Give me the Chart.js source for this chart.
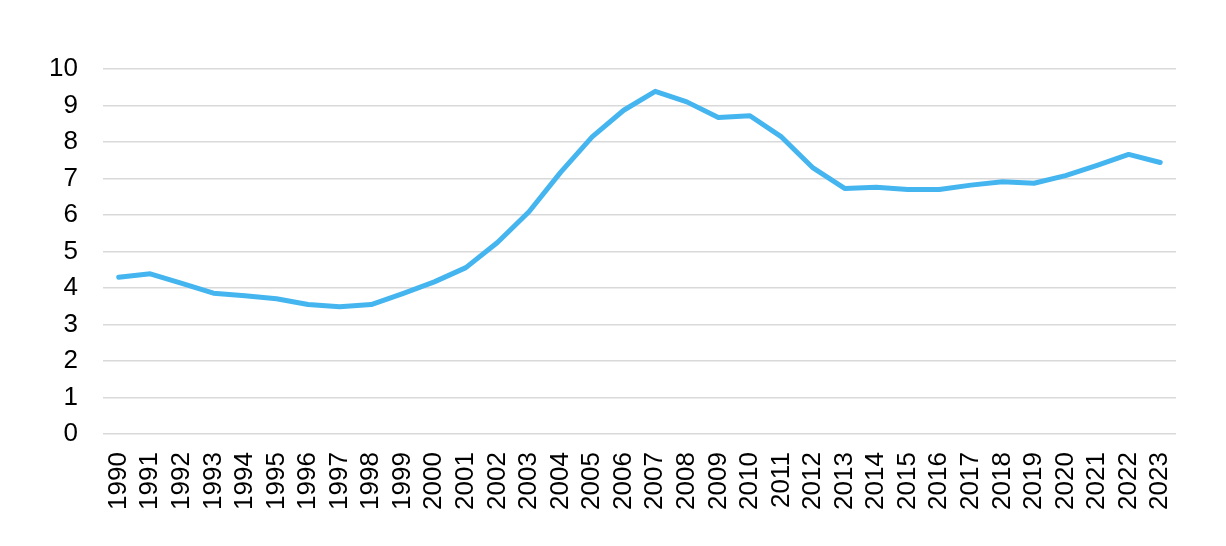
<!DOCTYPE html>
<html>
<head>
<meta charset="utf-8">
<script src="https://cdn.jsdelivr.net/npm/chart.js@4/dist/chart.umd.min.js"></script>
<style>
  html, body { margin: 0; padding: 0; background: #fff; }
  #wrap { width: 1226px; height: 546px; }
</style>
</head>
<body>
<div id="wrap"><canvas id="chart"></canvas></div>
<script>
const years = ['1990','1991','1992','1993','1994','1995','1996','1997','1998','1999',
  '2000','2001','2002','2003','2004','2005','2006','2007','2008','2009',
  '2010','2011','2012','2013','2014','2015','2016','2017','2018','2019',
  '2020','2021','2022','2023'];

const values = [4.30, 4.39, 4.13, 3.86, 3.79, 3.71, 3.55, 3.49, 3.55, 3.85,
  4.17, 4.56, 5.25, 6.09, 7.17, 8.14, 8.87, 9.39, 9.10, 8.67,
  8.72, 8.14, 7.29, 6.73, 6.76, 6.70, 6.70, 6.82, 6.91, 6.87,
  7.08, 7.36, 7.66, 7.44];

const yMin = 0;
const yMax = 10;
const yStep = 1;

const ctx = document.getElementById('chart').getContext('2d');
new Chart(ctx, {
    type: 'line',
    data: {
        labels: years,
        datasets: [{
            data: values,
            borderColor: '#45b5f0',
            borderWidth: 5,
            pointRadius: 0,
            tension: 0,
            borderCapStyle: 'round',
            borderJoinStyle: 'round',
            fill: false
        }]
    },
    options: {
        responsive: true,
        maintainAspectRatio: false,
        animation: false,
        layout: { padding: { left: 24, right: 50, top: 69, bottom: 18 } },
        plugins: {
            legend: { display: false },
            tooltip: { enabled: false }
        },
        scales: {
            x: {
                offset: true,
                grid: { display: false, drawTicks: false },
                border: { display: false },
                ticks: {
                    autoSkip: false,
                    maxRotation: 90,
                    minRotation: 90,
                    padding: 18,
                    color: '#000',
                    font: { family: 'Liberation Sans, Arial, sans-serif', size: 26 }
                }
            },
            y: {
                min: yMin,
                max: yMax,
                grid: { color: '#d9d9d9', lineWidth: 1.5, drawTicks: false },
                border: { display: false },
                ticks: {
                    stepSize: yStep,
                    padding: 25,
                    color: '#000',
                    font: { family: 'Liberation Sans, Arial, sans-serif', size: 26 }
                }
            }
        }
    }
});
</script>
</body>
</html>
